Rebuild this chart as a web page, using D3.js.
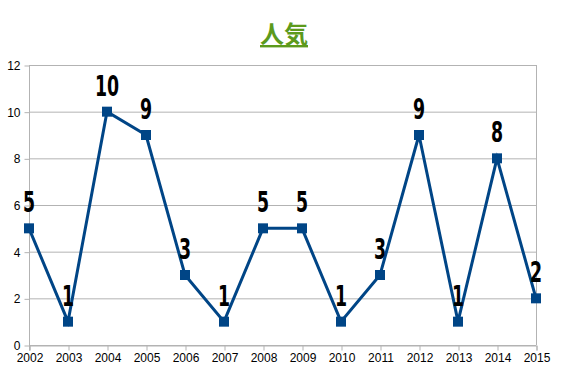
<!DOCTYPE html>
<html><head><meta charset="utf-8">
<script src="https://cdn.jsdelivr.net/npm/d3@7"></script>
<style>body{margin:0;background:#fff}svg{display:block}</style>
</head><body>
<script>
const years = ["2002","2003","2004","2005","2006","2007","2008","2009","2010","2011","2012","2013","2014","2015"];
const values = [5,1,10,9,3,1,5,5,1,3,9,1,8,2];
const yTicks = [0,2,4,6,8,10,12];
const title = "人気";

const W = 567, H = 378;
const svg = d3.select("body").append("svg").attr("width", W).attr("height", H);
const x = d3.scalePoint().domain(years).range([29, 536]);
const y = d3.scaleLinear().domain([0, 12]).range([345, 65]);

// grid
svg.append("g").selectAll("line").data(yTicks).join("line")
  .attr("x1", 29).attr("x2", 536).attr("y1", d => y(d)+0.5).attr("y2", d => y(d)+0.5)
  .attr("stroke", "#b3b3b3").attr("stroke-width", 1);
svg.append("line").attr("x1", 536.5).attr("x2", 536.5).attr("y1", y(12)).attr("y2", y(0))
  .attr("stroke", "#b3b3b3");

// axes
const yAxis = svg.append("g").attr("transform", "translate(29.5,0.5)")
  .call(d3.axisLeft(y).tickValues(yTicks).tickSize(5).tickPadding(4));
const xAxis = svg.append("g").attr("transform", `translate(0.5,${y(0)+0.5})`)
  .call(d3.axisBottom(x).tickSize(5).tickPadding(3));
[yAxis, xAxis].forEach(a => {
  a.select(".domain").attr("stroke", "#b3b3b3");
  a.selectAll(".tick line").attr("stroke", "#b3b3b3");
  a.selectAll("text").attr("fill", "#000").style("font-family", "'Liberation Sans', Arial, sans-serif").style("font-size", "12px");
});
yAxis.select(".domain").attr("d", `M0,${y(12)}V${y(0)+5}`);

// line
svg.append("path").datum(values)
  .attr("d", d3.line().x((d,i) => x(years[i])).y(d => y(d)))
  .attr("fill", "none").attr("stroke", "#004586").attr("stroke-width", 3);
svg.append("g").selectAll("rect").data(values).join("rect")
  .attr("x", (d,i) => x(years[i]) - 5).attr("y", d => y(d) - 5)
  .attr("width", 10).attr("height", 10).attr("fill", "#004586");

// labels (condensed look)
svg.append("g").selectAll("text").data(values).join("text")
  .attr("transform", (d,i) => `translate(${x(years[i])},${y(d) - 16}) scale(0.62,1)`)
  .attr("text-anchor", "middle")
  .style("font-family", "'DejaVu Sans', sans-serif")
  .style("font-weight", "bold").style("font-size", "28px").attr("fill", "#000")
  .text(d => d);

// title
svg.append("text").attr("x", 284).attr("y", 43).attr("text-anchor", "middle")
  .style("font-family", "'Noto Sans CJK JP', sans-serif").style("font-weight", "bold")
  .style("font-size", "24px").style("text-decoration", "underline")
  .attr("fill", "#5c9a1c").text(title);
</script>
</body></html>
